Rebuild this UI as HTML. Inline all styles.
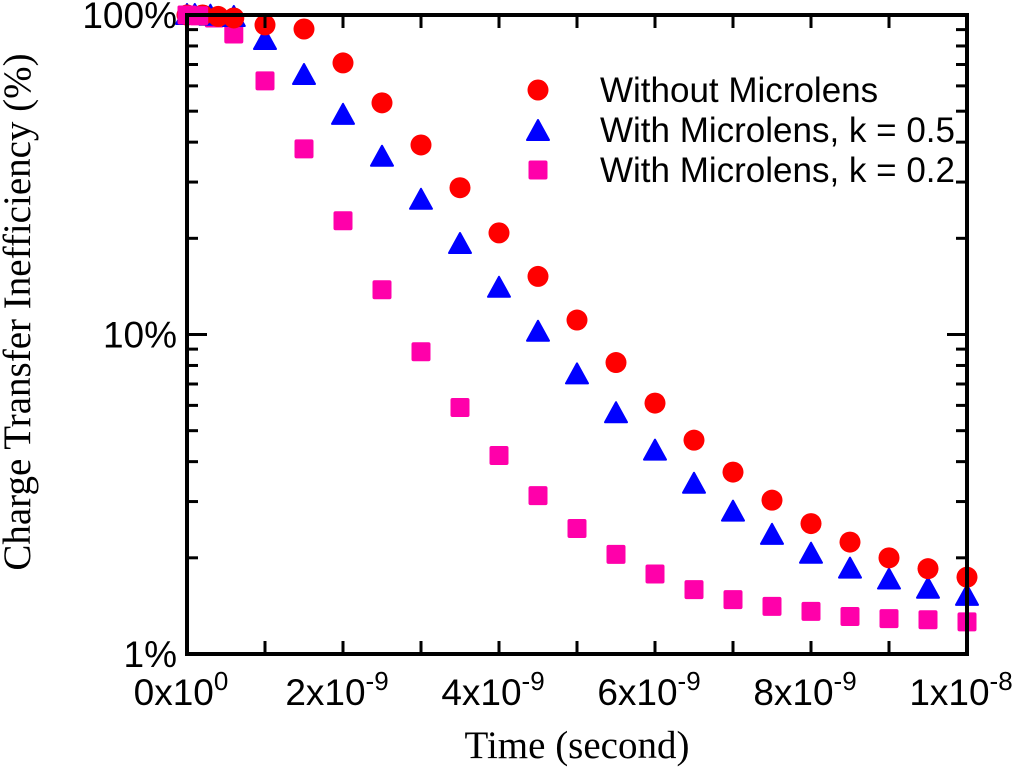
<!DOCTYPE html>
<html><head><meta charset="utf-8"><style>
html,body{margin:0;padding:0;background:#fff;width:1024px;height:770px;overflow:hidden}
svg text{fill:#000}
</style></head><body>
<svg id="chart" width="1024" height="770" xmlns="http://www.w3.org/2000/svg">
<g id="marks"></g>
<g id="axes"></g>
</svg>
<script>
const redT=[0,0.2,0.4,0.6,1,1.5,2,2.5,3,3.5,4,4.5,5,5.5,6,6.5,7,7.5,8,8.5,9,9.5,10];
const redV=[100,100,99,97.9,93.1,90.4,70.8,53.1,39.2,28.8,20.8,15.2,11.1,8.17,6.10,4.67,3.71,3.03,2.56,2.24,2.00,1.85,1.74];
const blueT=[0,0.1,0.3,0.6,1,1.5,2,2.5,3,3.5,4,4.5,5,5.5,6,6.5,7,7.5,8,8.5,9,9.5,10];
const blueV=[100,100,99.5,98.6,83.5,64.9,48.7,36.0,26.4,19.2,14.0,10.2,7.50,5.67,4.33,3.41,2.79,2.36,2.06,1.85,1.71,1.60,1.52];
const pinkT=[0,0.15,0.35,0.6,1,1.5,2,2.5,3,3.5,4,4.5,5,5.5,6,6.5,7,7.5,8,8.5,9,9.5,10];
const pinkV=[100,99.5,97.9,87.2,62.2,38.1,22.7,13.8,8.83,5.91,4.18,3.13,2.47,2.05,1.78,1.59,1.48,1.41,1.36,1.31,1.29,1.28,1.26];
const xTicks=[0,2,4,6,8,10];
const xTickLabels=[["0x10","0"],["2x10","-9"],["4x10","-9"],["6x10","-9"],["8x10","-9"],["1x10","-8"]];
const yTicks=[1,10,100];
const yTickLabels=["1%","10%","100%"];

const X0=187,X1=967,Y0=654,Y1=15;
const xs=t=>X0+(t/10)*(X1-X0);
const ys=v=>Y0-(Math.log10(v))/2*(Y0-Y1);
const NS="http://www.w3.org/2000/svg";
function mk(tag,attrs,parent){const e=document.createElementNS(NS,tag);for(const k in attrs)e.setAttribute(k,attrs[k]);parent.appendChild(e);return e;}
const marks=document.getElementById('marks'),axes=document.getElementById('axes');
const SANS='font-family:"Liberation Sans",sans-serif;';
const SERIF='font-family:"Liberation Serif",serif;';

function circle(x,y,p,name){const e=mk('circle',{cx:x,cy:y,r:10.5,fill:'#ff0000'},p);

}
function tri(x,y,p,name){const e=mk('polygon',{points:`${x},${y-11} ${x-11},${y+9} ${x+11},${y+9}`,fill:'#0000ff','stroke':'#0000ff','stroke-linejoin':'round','stroke-width':2},p);

}
function sq(x,y,p,name){const e=mk('rect',{x:x-9.5,y:y-9.5,width:19,height:19,rx:2,fill:'#ff00aa'},p);

}

pinkT.forEach((t,i)=>sq(xs(t),ys(pinkV[i]),marks,'point-k02'));
blueT.forEach((t,i)=>tri(xs(t),ys(blueV[i]),marks,'point-k05'));
redT.forEach((t,i)=>circle(xs(t),ys(redV[i]),marks,'point-no-microlens'));
[0,1].forEach(i=>sq(xs(pinkT[i]),ys(pinkV[i]),marks,'point-k02'));

const fr=mk('rect',{x:X0,y:Y1,width:X1-X0,height:Y0-Y1,fill:'none',stroke:'#000','stroke-width':4},axes);


for(let t=0;t<=10;t++){const x=xs(t);
 const a=mk('line',{x1:x,y1:Y0,x2:x,y2:Y0-13,stroke:'#000','stroke-width':3},axes);
 
 
 const b=mk('line',{x1:x,y1:Y1,x2:x,y2:Y1+13,stroke:'#000','stroke-width':3},axes);
 
 }
xTicks.forEach((t,i)=>{const tx=mk('text',{x:xs(t)-6,y:705,'text-anchor':'middle',style:SANS+'font-size:37px'},axes);
 
 
 tx.textContent=xTickLabels[i][0];
 const s=mk('tspan',{dy:-15,style:'font-size:26px'},tx);s.textContent=xTickLabels[i][1];});
for(let d=1;d<100;d*=10){for(let m=1;m<10;m++){const v=d*m;const y=ys(v);const L=m===1?20:11;
 const a=mk('line',{x1:X0,y1:y,x2:X0+L,y2:y,stroke:'#000','stroke-width':3},axes);
 
 
 const b=mk('line',{x1:X1,y1:y,x2:X1-L,y2:y,stroke:'#000','stroke-width':3},axes);
 
 }}
yTicks.forEach((v,i)=>{const tx=mk('text',{x:177,y:ys(v)+13,'text-anchor':'end',style:SANS+'font-size:37px'},axes);
 
 
 tx.textContent=yTickLabels[i];});
const xt=mk('text',{x:577,y:758,'text-anchor':'middle',style:SERIF+'font-size:39px'},axes);


xt.textContent='Time (second)';
const yt=mk('text',{x:0,y:0,'text-anchor':'middle',style:SERIF+'font-size:39px',transform:'translate(30,312) rotate(-90)'},axes);


yt.textContent='Charge Transfer Inefficiency (%)';
const lg=mk('g',{},axes);


circle(538,90,lg,'legend-marker-no-microlens');
tri(538,131,lg,'legend-marker-k05');
sq(538,170,lg,'legend-marker-k02');
[['Without Microlens',102],['With Microlens, k = 0.5',142],['With Microlens, k = 0.2',182]].forEach(([s,y])=>{
 const t=mk('text',{x:600,y:y,style:SANS+'font-size:35px'},lg);
 
 
 t.textContent=s;});
</script>
</body></html>
